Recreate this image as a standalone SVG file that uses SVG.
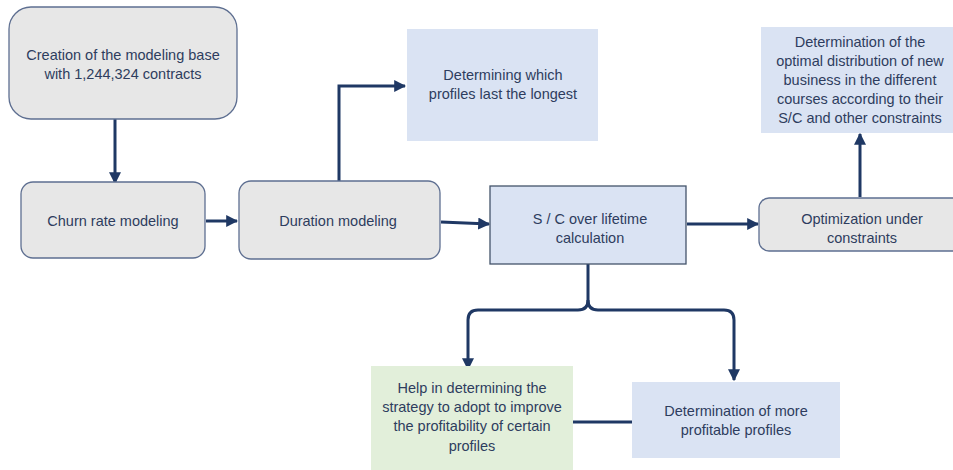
<svg xmlns="http://www.w3.org/2000/svg" width="953" height="470" viewBox="0 0 953 470">
  <style>
    .proc { fill: #e7e7e7; stroke: #5e6f91; stroke-width: 1.3; }
    .note { fill: #dae3f3; }
    .calc { fill: #dae3f3; stroke: #44546a; stroke-width: 1.3; }
    .help { fill: #e2efda; }
    .lbl { font-family: "Liberation Sans", Arial, sans-serif; font-size: 14.5px; fill: #2e3d5e; text-anchor: middle; }
    .wire { fill: none; stroke: #1f3864; stroke-width: 3; }
  </style>
  <defs>
    <marker id="head" viewBox="0 0 10 10" refX="9" refY="5" markerWidth="4" markerHeight="4" orient="auto" markerUnits="strokeWidth">
      <path d="M0,0 L10,5 L0,10 Z" fill="#1f3864"/>
    </marker>
  </defs>

  <g id="connectors">
    <path class="wire" d="M115,119 V183" marker-end="url(#head)"/>
    <path class="wire" d="M206,221 H237" marker-end="url(#head)"/>
    <path class="wire" d="M339,181 V86 H405" marker-end="url(#head)"/>
    <path class="wire" d="M441,222 L489,224" marker-end="url(#head)"/>
    <path class="wire" d="M687,224 H758" marker-end="url(#head)"/>
    <path class="wire" d="M860,197 V134" marker-end="url(#head)"/>
    <path class="wire" d="M588,264 V300 Q588,310 578,310 H478 Q468,310 468,320 V369" marker-end="url(#head)"/>
    <path class="wire" d="M588,300 Q588,310 598,310 H724 Q734,310 734,320 V380" marker-end="url(#head)"/>
    <path class="wire" d="M573,422 H632"/>
  </g>

  <g id="creation">
    <rect class="proc" x="9" y="7" width="228" height="112" rx="22"/>
    <text class="lbl" x="123" y="60">Creation of the modeling base</text>
    <text class="lbl" x="123" y="79">with 1,244,324 contracts</text>
  </g>

  <g id="churn">
    <rect class="proc" x="21" y="182" width="184" height="76" rx="12"/>
    <text class="lbl" x="113" y="226">Churn rate modeling</text>
  </g>

  <g id="duration">
    <rect class="proc" x="239" y="181" width="201" height="78" rx="12"/>
    <text class="lbl" x="338" y="226">Duration modeling</text>
  </g>

  <g id="longest">
    <rect class="note" x="407" y="29" width="191" height="112"/>
    <text class="lbl" x="503" y="80">Determining which</text>
    <text class="lbl" x="503" y="99">profiles last the longest</text>
  </g>

  <g id="sc-lifetime">
    <rect class="calc" x="490" y="186" width="196" height="78"/>
    <text class="lbl" x="590" y="224">S / C over lifetime</text>
    <text class="lbl" x="590" y="243">calculation</text>
  </g>

  <g id="optimization">
    <rect class="proc" x="759" y="198" width="204" height="53" rx="10"/>
    <text class="lbl" x="862" y="224">Optimization under</text>
    <text class="lbl" x="862" y="243">constraints</text>
  </g>

  <g id="distribution">
    <rect class="note" x="761" y="27" width="192" height="106"/>
    <text class="lbl" x="860" y="47">Determination of the</text>
    <text class="lbl" x="860" y="66">optimal distribution of new</text>
    <text class="lbl" x="860" y="85">business in the different</text>
    <text class="lbl" x="860" y="104">courses according to their</text>
    <text class="lbl" x="860" y="123">S/C and other constraints</text>
  </g>

  <g id="strategy">
    <rect class="help" x="371" y="366" width="202" height="104"/>
    <text class="lbl" x="472" y="393">Help in determining the</text>
    <text class="lbl" x="472" y="412">strategy to adopt to improve</text>
    <text class="lbl" x="472" y="431">the profitability of certain</text>
    <text class="lbl" x="472" y="451">profiles</text>
  </g>

  <g id="profitable">
    <rect class="note" x="632" y="382" width="208" height="76"/>
    <text class="lbl" x="736" y="416">Determination of more</text>
    <text class="lbl" x="736" y="435">profitable profiles</text>
  </g>
</svg>
